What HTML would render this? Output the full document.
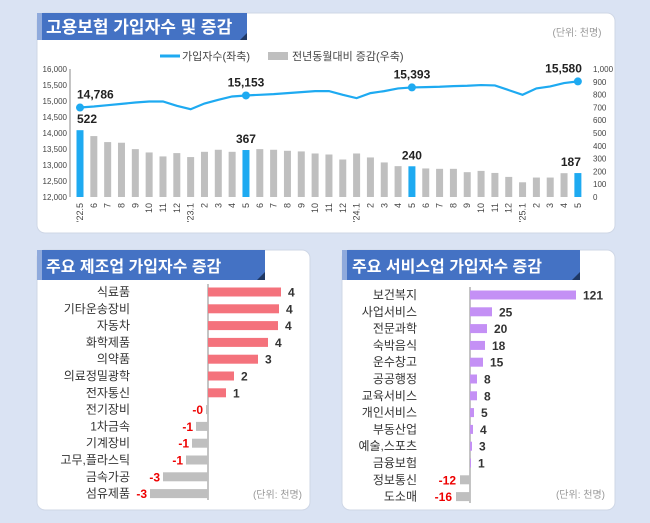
<!DOCTYPE html>
<html><head><meta charset="utf-8"><style>
html,body{margin:0;padding:0;background:#dae3f3;}
svg{display:block;font-family:"Liberation Sans","Noto Sans CJK KR",sans-serif;}
</style></head><body>
<svg id="s" width="650" height="523" viewBox="0 0 650 523" xmlns="http://www.w3.org/2000/svg">
<rect width="650" height="523" fill="#dae3f3"/>
<rect x="37" y="13" width="578" height="220" rx="8" fill="#fff" stroke="#cfd7e6"/>
<rect x="37" y="250" width="273" height="260" rx="8" fill="#fff" stroke="#cfd7e6"/>
<rect x="342" y="250" width="273" height="260" rx="8" fill="#fff" stroke="#cfd7e6"/>
<rect x="37" y="13" width="210" height="27" fill="#4472c4"/>
<rect x="37" y="13" width="5" height="27" fill="#8faadc"/>
<polygon points="240,40 247,33 247,40" fill="#1f3864"/>
<text x="46" y="33" font-size="17" font-weight="bold" fill="#fff">고용보험 가입자수 및 증감</text>
<text x="577" y="36" font-size="10" fill="#999" text-anchor="middle">(단위: 천명)</text>
<line x1="160" y1="56" x2="180" y2="56" stroke="#1eaaf1" stroke-width="3"/>
<text x="182" y="60" font-size="11" fill="#444">가입자수(좌축)</text>
<rect x="268" y="52" width="20" height="8" fill="#bfbfbf"/>
<text x="292" y="60" font-size="11" fill="#444">전년동월대비 증감(우축)</text>
<rect x="37" y="250" width="228" height="30" fill="#4472c4"/>
<rect x="37" y="250" width="5" height="30" fill="#8faadc"/>
<polygon points="257,280 265,272 265,280" fill="#1f3864"/>
<text x="46" y="272" font-size="16" font-weight="bold" fill="#fff">주요 제조업 가입자수 증감</text>
<rect x="342" y="250" width="238" height="30" fill="#4472c4"/>
<rect x="342" y="250" width="5" height="30" fill="#8faadc"/>
<polygon points="572,280 580,272 580,280" fill="#1f3864"/>
<text x="352" y="272" font-size="16" font-weight="bold" fill="#fff">주요 서비스업 가입자수 증감</text>
<g id="g"></g>
</svg>
<script>
var g=document.getElementById('g'),h='';
function T(x,y,t,o){o=o||{};h+='<text x="'+x+'" y="'+y+'" font-size="'+(o.s||9)+'" fill="'+(o.c||'#444')+'" text-anchor="'+(o.a||'start')+'"'+(o.b?' font-weight="bold"':'')+(o.tr?' transform="'+o.tr+'"':'')+'>'+t+'</text>';}
var bars=[522,476,429,424,374,348,317,343,312,353,369,353,367,374,369,361,356,340,332,293,340,309,270,241,240,223,220,220,194,204,188,157,115,152,152,186,187];
var ly=[325,322,318,314,310,307,307,320,330,313,302,292,289,287,285,282,279,276,276,287,297,282,276,268,265,264,263,261,260,258,259,273,287,268,262,252,247];
var lab=["'22.5","6","7","8","9","10","11","12","'23.1","2","3","4","5","6","7","8","9","10","11","12","'24.1","2","3","4","5","6","7","8","9","10","11","12","'25.1","2","3","4","5"];
var y0=197,y1=69,i;
for(i=0;i<=8;i++){var y=y0-(y0-y1)*i/8;T(67,y+3,(12000+500*i).toLocaleString('en-US'),{s:8,a:'end'});}
for(i=0;i<=10;i++){var y=y0-(y0-y1)*i/10;T(593,y+3,i==10?'1,000':String(i*100),{s:8});}
h+='<line x1="70" y1="69" x2="70" y2="197" stroke="#888"/>';
var hl={0:1,12:1,24:1,36:1};
var pts=[];
for(i=0;i<37;i++){var x=80+i*13.83;var bh=bars[i]/1000*128;
h+='<rect x="'+(x-3.5)+'" y="'+(y0-bh)+'" width="7" height="'+bh+'" fill="'+(hl[i]?'#1eaaf1':'#bfbfbf')+'"/>';
var yy=69+(ly[i]-210)/382*128;pts.push(x+','+yy);
T(x+3,203,lab[i],{s:9,a:'end',tr:'rotate(-90 '+(x+3)+' 203)'});}
h+='<polyline points="'+pts.join(' ')+'" fill="none" stroke="#1eaaf1" stroke-width="2.2"/>';
var L=[[0,'14,786','522'],[12,'15,153','367'],[24,'15,393','240'],[36,'15,580','187']];
L.forEach(function(a){var i=a[0],x=80+i*13.83,yy=69+(ly[i]-210)/382*128,bh=bars[i]/1000*128;
h+='<circle cx="'+x+'" cy="'+yy+'" r="4" fill="#1eaaf1"/>';
var ax=i==0?'start':(i==36?'end':'middle');var xx=i==0?x-3:(i==36?x+4:x);
T(xx,yy-9,a[1],{s:12,b:1,c:'#222',a:ax});T(i==0?x-3:(i==36?x+3:x),y0-bh-7,a[2],{s:12,b:1,c:'#222',a:ax});});
var M=[['식료품',73,'4'],['기타운송장비',71,'4'],['자동차',70,'4'],['화학제품',60,'4'],['의약품',50,'3'],['의료정밀광학',26,'2'],['전자통신',18,'1'],['전기장비',-2,'-0'],['1차금속',-12,'-1'],['기계장비',-16,'-1'],['고무,플라스틱',-22,'-1'],['금속가공',-45,'-3'],['섬유제품',-58,'-3']];
var ax=208;h+='<line x1="'+ax+'" y1="284" x2="'+ax+'" y2="500" stroke="#888"/>';
M.forEach(function(r,i){var y=292+i*16.8;T(130,y+4,r[0],{s:12,a:'end',c:'#333'});
if(r[1]>0){h+='<rect x="'+ax+'" y="'+(y-4.5)+'" width="'+r[1]+'" height="9" fill="#f4727c"/>';T(ax+r[1]+7,y+4.5,r[2],{s:12,b:1,c:'#333'});}
else{h+='<rect x="'+(ax+r[1])+'" y="'+(y-4.5)+'" width="'+(-r[1])+'" height="9" fill="#bfbfbf"/>';T(ax+r[1]-3,y+4.5,r[2],{s:12,b:1,c:'#e00',a:'end'});}});
T(302,498,'(단위: 천명)',{s:10,c:'#999',a:'end'});
var S=[['보건복지',106,'121'],['사업서비스',22,'25'],['전문과학',17,'20'],['숙박음식',15,'18'],['운수창고',13,'15'],['공공행정',7,'8'],['교육서비스',7,'8'],['개인서비스',4,'5'],['부동산업',3,'4'],['예술,스포츠',2,'3'],['금융보험',1,'1'],['정보통신',-10,'-12'],['도소매',-14,'-16']];
ax=470;h+='<line x1="'+ax+'" y1="287" x2="'+ax+'" y2="503" stroke="#888"/>';
S.forEach(function(r,i){var y=295+i*16.8;T(417,y+4,r[0],{s:12,a:'end',c:'#333'});
if(r[1]>0){h+='<rect x="'+ax+'" y="'+(y-4.5)+'" width="'+r[1]+'" height="9" fill="#c490f5"/>';T(ax+r[1]+7,y+4.5,r[2],{s:12,b:1,c:'#333'});}
else{h+='<rect x="'+(ax+r[1])+'" y="'+(y-4.5)+'" width="'+(-r[1])+'" height="9" fill="#bfbfbf"/>';T(ax+r[1]-4,y+4.5,r[2],{s:12,b:1,c:'#e00',a:'end'});}});
T(605,498,'(단위: 천명)',{s:10,c:'#999',a:'end'});
g.innerHTML=h;
</script>
</body></html>
